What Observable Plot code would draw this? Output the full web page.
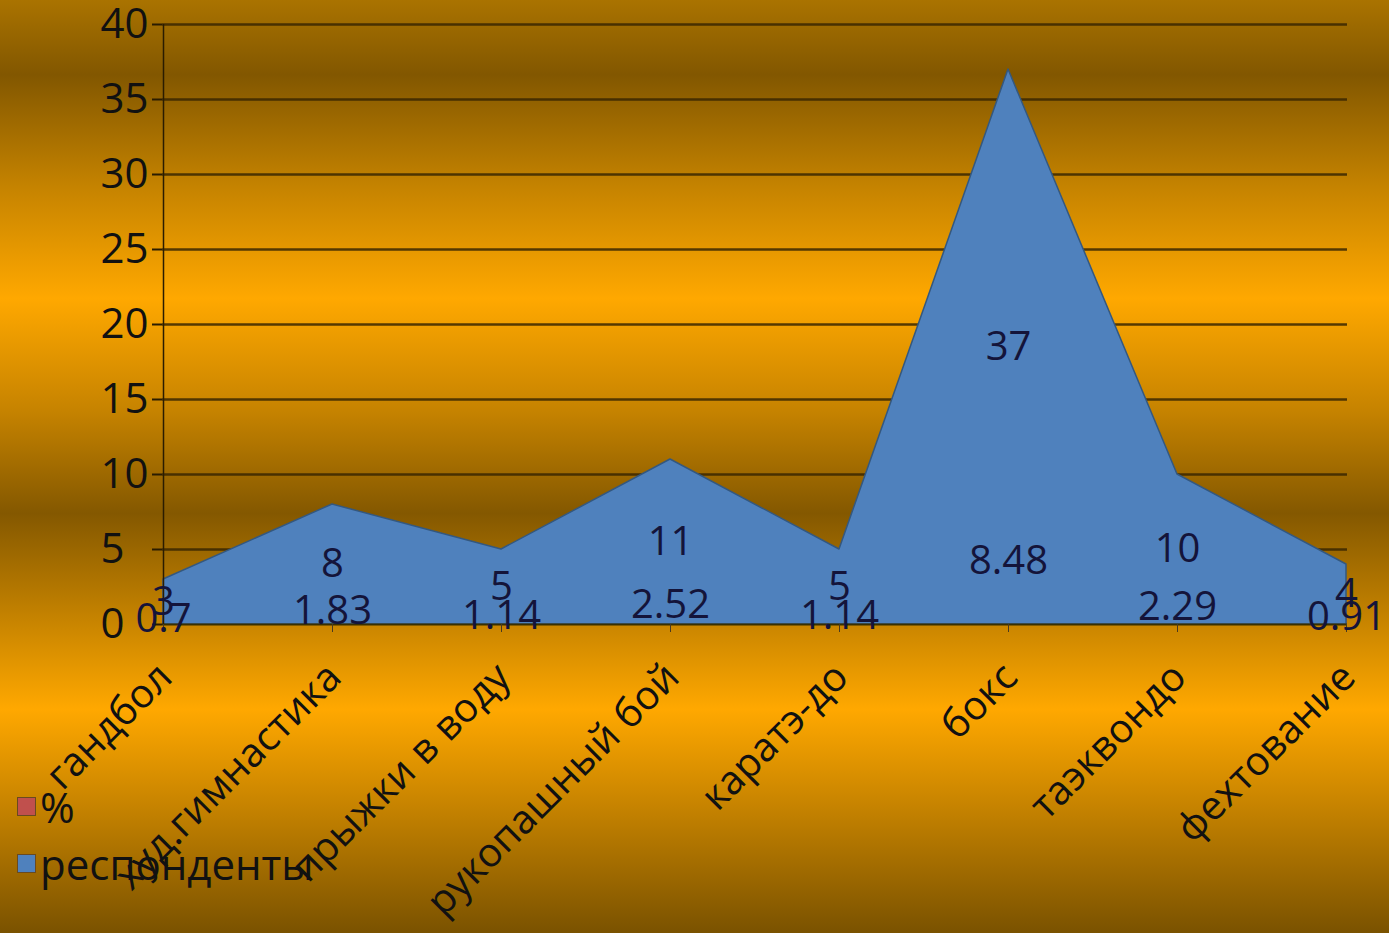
<!DOCTYPE html>
<html><head><meta charset="utf-8">
<script src="https://cdn.jsdelivr.net/npm/d3@7"></script>
<script src="https://cdn.jsdelivr.net/npm/@observablehq/plot@0.6"></script>
<style>
body{margin:0;background:#000;}
#chart{position:relative;width:1389px;height:933px;overflow:hidden;
background:linear-gradient(to bottom,#aa7300 0%,#825700 8%,#c58300 20%,#ffa800 32%,#c68300 44%,#845800 55%,#c48200 66%,#ffa800 76%,#c38100 87%,#7a5200 100%);
font-family:"Open Sans",sans-serif;}
#chart svg{position:absolute;left:0;top:0;}
.legend{position:absolute;left:17px;font-size:42px;color:#111;line-height:1;white-space:nowrap;}
.legend .sw{display:inline-block;width:17px;height:17px;border:1px solid #6a4a20;margin-right:4px;vertical-align:middle;position:relative;top:-5px;}
</style></head>
<body>
<div id="chart"></div>
<script>
const categories = ["гандбол","худ.гимнастика","прыжки в воду","рукопашный бой","каратэ-до","бокс","таэквондо","фехтование"];
const respondents = [3,8,5,11,5,37,10,4];
const percents = [0.7,1.83,1.14,2.52,1.14,8.48,2.29,0.91];
const percentLabels = ["0.7","1.83","1.14","2.52","1.14","8.48","2.29","0.91"];
const yTicks = [0,5,10,15,20,25,30,35,40];
const seriesNames = ["%","респонденты"];
const seriesColors = ["#C0504D","#4F81BD"];

const data = categories.map((c,i)=>({cat:c, resp:respondents[i], pct:percents[i], pctLabel:percentLabels[i]}));

const chart = Plot.plot({
  width:1389, height:933,
  marginLeft:162, marginRight:42, marginTop:24, marginBottom:309,
  style:{background:"transparent", fontFamily:"'Open Sans',sans-serif", color:"#111", overflow:"visible"},
  x:{type:"point", domain:categories, padding:0},
  y:{domain:[0,40]},
  marks:[
    Plot.ruleY(yTicks.filter(d=>d>0), {stroke:"#3a2700", strokeWidth:2.5, strokeOpacity:0.85}),
    Plot.areaY(data, {x:"cat", y:"pct", fill:seriesColors[0], stroke:"#8c3836", strokeWidth:1}),
    Plot.areaY(data, {x:"cat", y:"resp", fill:seriesColors[1], stroke:"#34587f", strokeWidth:1.5}),
    Plot.ruleY([0], {stroke:"#3a3000", strokeWidth:2}),
    Plot.ruleX([categories[0]], {y1:0, y2:40, stroke:"#2a1c00", strokeWidth:1.5}),
    Plot.axisY({ticks:yTicks, tickSize:10, tickFormat:()=>"", stroke:"#2a1c00", strokeWidth:2, label:null}),
    Plot.axisY({ticks:yTicks, tickSize:0, tickPadding:14, textAnchor:"start", dx:-48, fontSize:42, label:null}),
    Plot.axisX({tickSize:8, tickFormat:()=>"", stroke:"#4a3a20", label:null}),
    Plot.axisX({tickSize:0, tickRotate:-45, tickPadding:46, dx:2, fontSize:40, label:null}),
    Plot.text(data, {x:"cat", y:d=>d.resp/2, text:d=>String(d.resp), fontSize:40, fill:"#14143a"}),
    Plot.text(data, {x:"cat", y:d=>d.pct/2, text:"pctLabel", fontSize:40, fill:"#14143a"})
  ]
});
const root = document.getElementById("chart");
root.appendChild(chart);
const tops = [786, 843];
seriesNames.forEach((n,i)=>{
  const d = document.createElement("div");
  d.className = "legend";
  d.style.top = tops[i] + "px";
  d.innerHTML = `<span class="sw" style="background:${seriesColors[i]}"></span>${n}`;
  root.appendChild(d);
});
</script>
</body></html>
